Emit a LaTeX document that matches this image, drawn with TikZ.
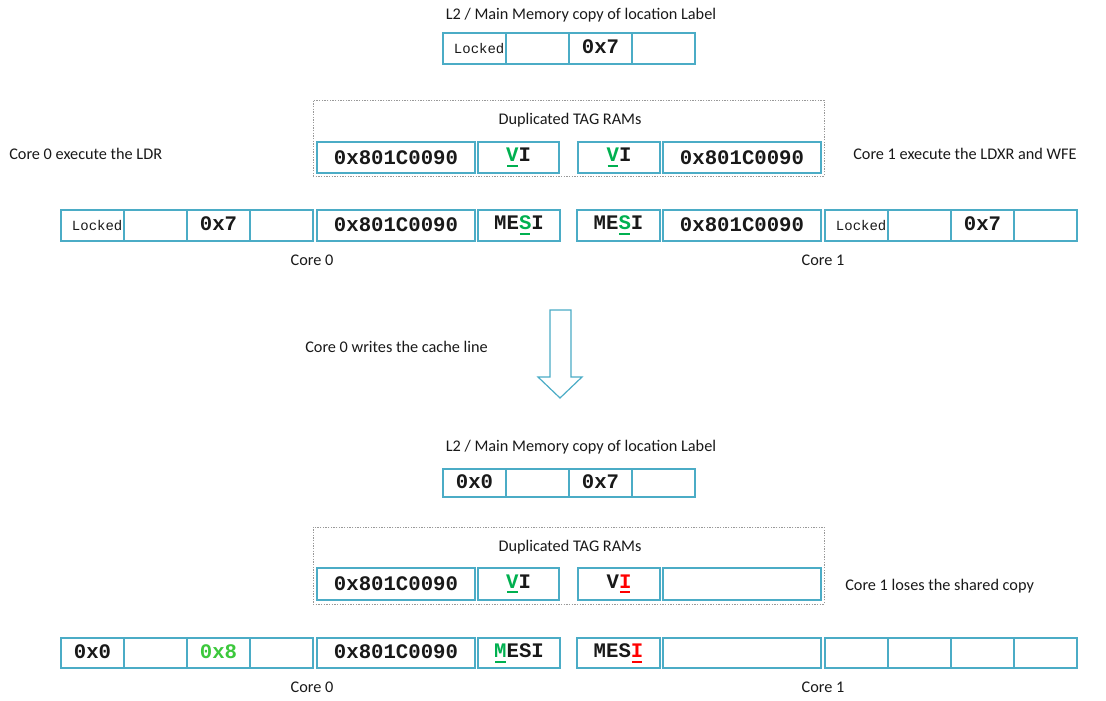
\documentclass[tikz,border=0pt]{standalone}
\usepackage{fontspec}
\setmainfont{Carlito}
\newfontfamily\codefont{Liberation Mono}
\usetikzlibrary{calc}

\definecolor{cellblue}{RGB}{75,172,198}
\definecolor{okgreen}{RGB}{0,176,80}
\definecolor{valgreen}{RGB}{60,200,60}
\definecolor{badred}{RGB}{255,0,0}
\definecolor{txt}{RGB}{25,25,25}

% a letter with a thick coloured bar beneath it
\newcommand\uletter[2]{{\color{#1}\setbox0\hbox{#2}\rlap{\hbox to \wd0{\hss\rule[-4pt]{0.85\wd0}{1.5pt}\hss}}\box0}}
\newcommand\lockedtxt{\raisebox{-2.5pt}{\hspace*{7pt}\codefont\mdseries\fontsize{10.5}{12}\selectfont Locked}}

% cell: name, x1, y1, x2, y2, content (pixel-like units, y pointing down)
\newcommand\cellbox[6]{%
  \node[cell, minimum width={(#4-#2)*0.75pt}, minimum height={(#5-#3)*0.75pt}]
    (#1) at ({(#2+#4)/2},{(#3+#5)/2}) {#6};}

\tikzset{
  cell/.style={draw=cellblue, line width=0.9pt, fill=white, inner sep=0pt, outer sep=0pt,
    text=txt, font=\codefont\bfseries\fontsize{15.5}{17}\selectfont},
  caption/.style={text=txt, font=\fontsize{12.2}{14}\selectfont, inner sep=0pt},
  tagframe/.style={draw=black!40, dash pattern=on 1pt off 1pt, line width=0.6pt},
  bigarrow/.style={draw=cellblue, line width=0.9pt, fill=white, line join=miter}
}

\begin{document}
\begin{tikzpicture}[x=0.75pt,y=-0.75pt]
\useasboundingbox (0,0) rectangle (1106,700);

% ===================== before the write =====================
\node[caption] (l2title) at (581,15) {L2 / Main Memory copy of location Label};
\cellbox{la}{443}{33}{506}{64}{\lockedtxt}
\cellbox{lb}{506}{33}{569}{64}{}
\cellbox{lc}{569}{33}{632}{64}{\raisebox{3pt}{0x7}}
\cellbox{ld}{632}{33}{695}{64}{}

% duplicated tag RAMs
\node[tagframe, minimum width={511*0.75pt}, minimum height={76*0.75pt}, inner sep=0pt] (tagbox) at (568.5,138) {};
\node[caption] (tagtitle) at (570,120) {Duplicated TAG RAMs};
\cellbox{ta}{317}{142}{475}{173}{0x801C0090}
\cellbox{tb}{478}{142}{559}{173}{\uletter{okgreen}{V}I}
\cellbox{tc}{578}{142}{660}{173}{\uletter{okgreen}{V}I}
\cellbox{td}{663}{142}{821}{173}{0x801C0090}

\node[caption, anchor=west] (ldrnote) at (9,154) {Core 0 execute the LDR};
\node[caption, anchor=west] (ldxrnote) at (853,154) {Core 1 execute the LDXR and WFE};

% core 0 line
\cellbox{aa}{61}{210}{124}{241}{\lockedtxt}
\cellbox{ab}{124}{210}{187}{241}{}
\cellbox{ac}{187}{210}{250}{241}{\raisebox{3pt}{0x7}}
\cellbox{ad}{250}{210}{313}{241}{}
\cellbox{atag}{317}{210}{475}{241}{\raisebox{2pt}{0x801C0090}}
\cellbox{astate}{478}{210}{560}{241}{ME\uletter{okgreen}{S}I}
\node[caption] (core0a) at (312,260) {Core 0};

% core 1 line
\cellbox{bstate}{577}{210}{660}{241}{ME\uletter{okgreen}{S}I}
\cellbox{btag}{663}{210}{821}{241}{\raisebox{2pt}{0x801C0090}}
\cellbox{ba}{825}{210}{888}{241}{\lockedtxt}
\cellbox{bb}{888}{210}{951}{241}{}
\cellbox{bc}{951}{210}{1014}{241}{\raisebox{3pt}{0x7}}
\cellbox{bd}{1014}{210}{1077}{241}{}
\node[caption] (core1a) at (823,260) {Core 1};

% ===================== the write =====================
\node[caption, anchor=west] (writenote) at (305,347) {Core 0 writes the cache line};
\draw[bigarrow] (550,310) -- (571,310) -- (571,377) -- (582,377) -- (560,398)
  -- (538,377) -- (550,377) -- cycle;

% ===================== after the write =====================
\node[caption] (l2titleb) at (581,447) {L2 / Main Memory copy of location Label};
\cellbox{ma}{443}{469}{506}{497}{\raisebox{2pt}{0x0}}
\cellbox{mb}{506}{469}{569}{497}{}
\cellbox{mc}{569}{469}{632}{497}{\raisebox{2pt}{0x7}}
\cellbox{md}{632}{469}{695}{497}{}

\node[tagframe, minimum width={511*0.75pt}, minimum height={77*0.75pt}, inner sep=0pt] (tagboxb) at (568.5,565.5) {};
\node[caption] (tagtitleb) at (570,547) {Duplicated TAG RAMs};
\cellbox{ua}{317}{568}{475}{600}{0x801C0090}
\cellbox{ub}{478}{568}{559}{600}{\uletter{okgreen}{V}I}
\cellbox{uc}{578}{568}{660}{600}{V\uletter{badred}{I}}
\cellbox{ud}{663}{568}{821}{600}{}

\node[caption, anchor=west] (losenote) at (845,586) {Core 1 loses the shared copy};

% core 0 line
\cellbox{ca}{61}{638}{124}{668}{\raisebox{2pt}{0x0}}
\cellbox{cb}{124}{638}{187}{668}{}
\cellbox{cc}{187}{638}{250}{668}{\raisebox{2pt}{\color{valgreen}0x8}}
\cellbox{cd}{250}{638}{313}{668}{}
\cellbox{ctag}{317}{638}{475}{668}{\raisebox{2pt}{0x801C0090}}
\cellbox{cstate}{478}{638}{560}{668}{\uletter{okgreen}{M}ESI}
\node[caption] (core0b) at (312,687) {Core 0};

% core 1 line
\cellbox{dstate}{577}{638}{660}{668}{MES\uletter{badred}{I}}
\cellbox{dtag}{663}{638}{821}{668}{}
\cellbox{da}{825}{638}{888}{668}{}
\cellbox{db}{888}{638}{951}{668}{}
\cellbox{dc}{951}{638}{1014}{668}{}
\cellbox{dd}{1014}{638}{1077}{668}{}
\node[caption] (core1b) at (823,687) {Core 1};
\end{tikzpicture}
\end{document}
